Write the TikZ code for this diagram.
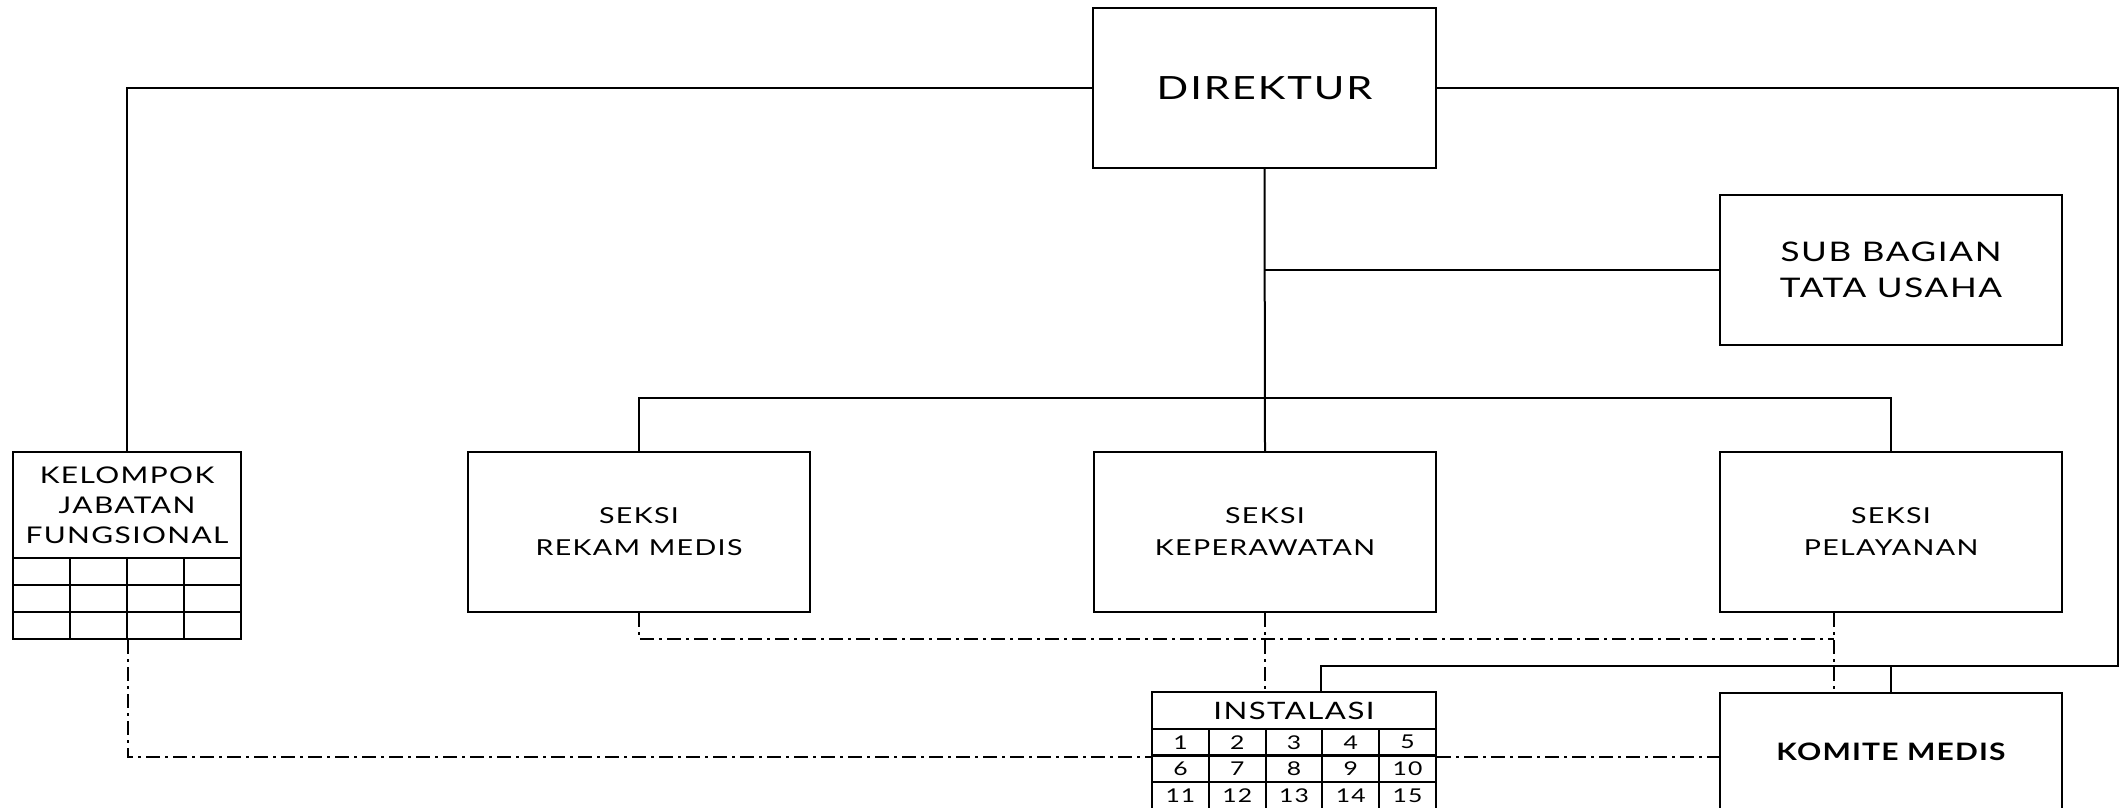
\documentclass[tikz,border=0pt]{standalone}
\usepackage{fontspec}
\newfontfamily\orgfont{Lato}[FakeStretch=1.3,LetterSpace=6]
\newfontfamily\orgfontb{Lato Bold}[FakeStretch=1.25,LetterSpace=5]
\begin{document}
\begin{tikzpicture}[x=1pt,y=-1pt,
  box/.style={draw, line width=2pt, inner sep=0pt, align=center, fill=white},
  conn/.style={line width=2pt},
  dd/.style={line width=2pt, dash pattern=on 14pt off 5pt on 3pt off 5pt},
  cellbox/.style={draw, line width=2pt, inner sep=0pt},
]
\useasboundingbox (0,0) rectangle (2123,807);
\clip (0,0) rectangle (2123,807);
\fill[white] (0,0) rectangle (2123,807);

% main boxes
\node[box, minimum width=343pt, minimum height=160pt,
      font=\orgfont\fontsize{32}{36}\selectfont] (direktur) at (1264.5,88) {DIREKTUR};
\node[box, minimum width=342pt, minimum height=150pt,
      font=\orgfont\fontsize{27}{36}\selectfont] (subbag) at (1891,270) {SUB BAGIAN\\TATA USAHA};
\node[box, minimum width=342pt, minimum height=160pt,
      font=\orgfont\fontsize{22}{32}\selectfont] (rekam) at (639,532) {SEKSI\\REKAM MEDIS};
\node[box, minimum width=342pt, minimum height=160pt,
      font=\orgfont\fontsize{22}{32}\selectfont] (kep) at (1265,532) {SEKSI\\KEPERAWATAN};
\node[box, minimum width=342pt, minimum height=160pt,
      font=\orgfont\fontsize{22}{32}\selectfont] (pel) at (1891,532) {SEKSI\\PELAYANAN};
\node[box, minimum width=342pt, minimum height=118pt,
      font=\orgfontb\fontsize{24}{28}\selectfont] (komite) at (1891,752) {KOMITE MEDIS};

% kelompok jabatan fungsional
\node[box, minimum width=228pt, minimum height=106pt,
      font=\orgfont\fontsize{23}{30}\selectfont] (kel) at (127,505) {KELOMPOK\\JABATAN\\FUNGSIONAL};
\foreach \r in {0,1,2}
  \foreach \c in {1,2,3,4}
    \node[cellbox, minimum width=57pt, minimum height=27pt] (k\r\c)
      at ({13+57*(\c-0.5)},{558+27*(\r+0.5)}) {};

% instalasi
\node[box, minimum width=284pt, minimum height=37pt,
      font=\orgfont\fontsize{24}{28}\selectfont] (inst) at (1294,710.5) {INSTALASI};
\foreach \r in {0,1,2}
  \foreach \c in {1,...,5} {
    \pgfmathtruncatemacro\n{\r*5+\c}
    \node[cellbox, minimum width=56.8pt, minimum height=27pt,
          font=\orgfont\fontsize{19}{20}\selectfont] (i\n)
      at ({1152+56.8*(\c-0.5)},{729+26.5*(\r+0.5)}) {\n};
  }

% coordinates
\coordinate (rt) at (2118,666);
\coordinate (dbus) at (1834,639);

% solid connectors
\draw[conn] (direktur.south) -- (kep.north);
\draw[conn] (direktur.south |- subbag.west) -- (subbag.west);
\draw[conn] (rekam.north) -- ++(0,-53) -| (pel.north);
\draw[conn] (direktur.west) -| (kel.north);
\draw[conn] (direktur.east) -| (rt) -| (inst.north -| i4.west);
\draw[conn] (komite.north) -- (komite.north |- rt);

% dash-dot connectors
\draw[dd] (rekam.south) |- (dbus);
\draw[dd] (pel.south -| dbus) -- (komite.north -| dbus);
\draw[dd] (kep.south) -- (kep.south |- inst.north);
\draw[dd] (k22.south east) |- (i1.south west);
\draw[dd] (i5.south east) -- (i5.south east -| komite.west);
\end{tikzpicture}
\end{document}
